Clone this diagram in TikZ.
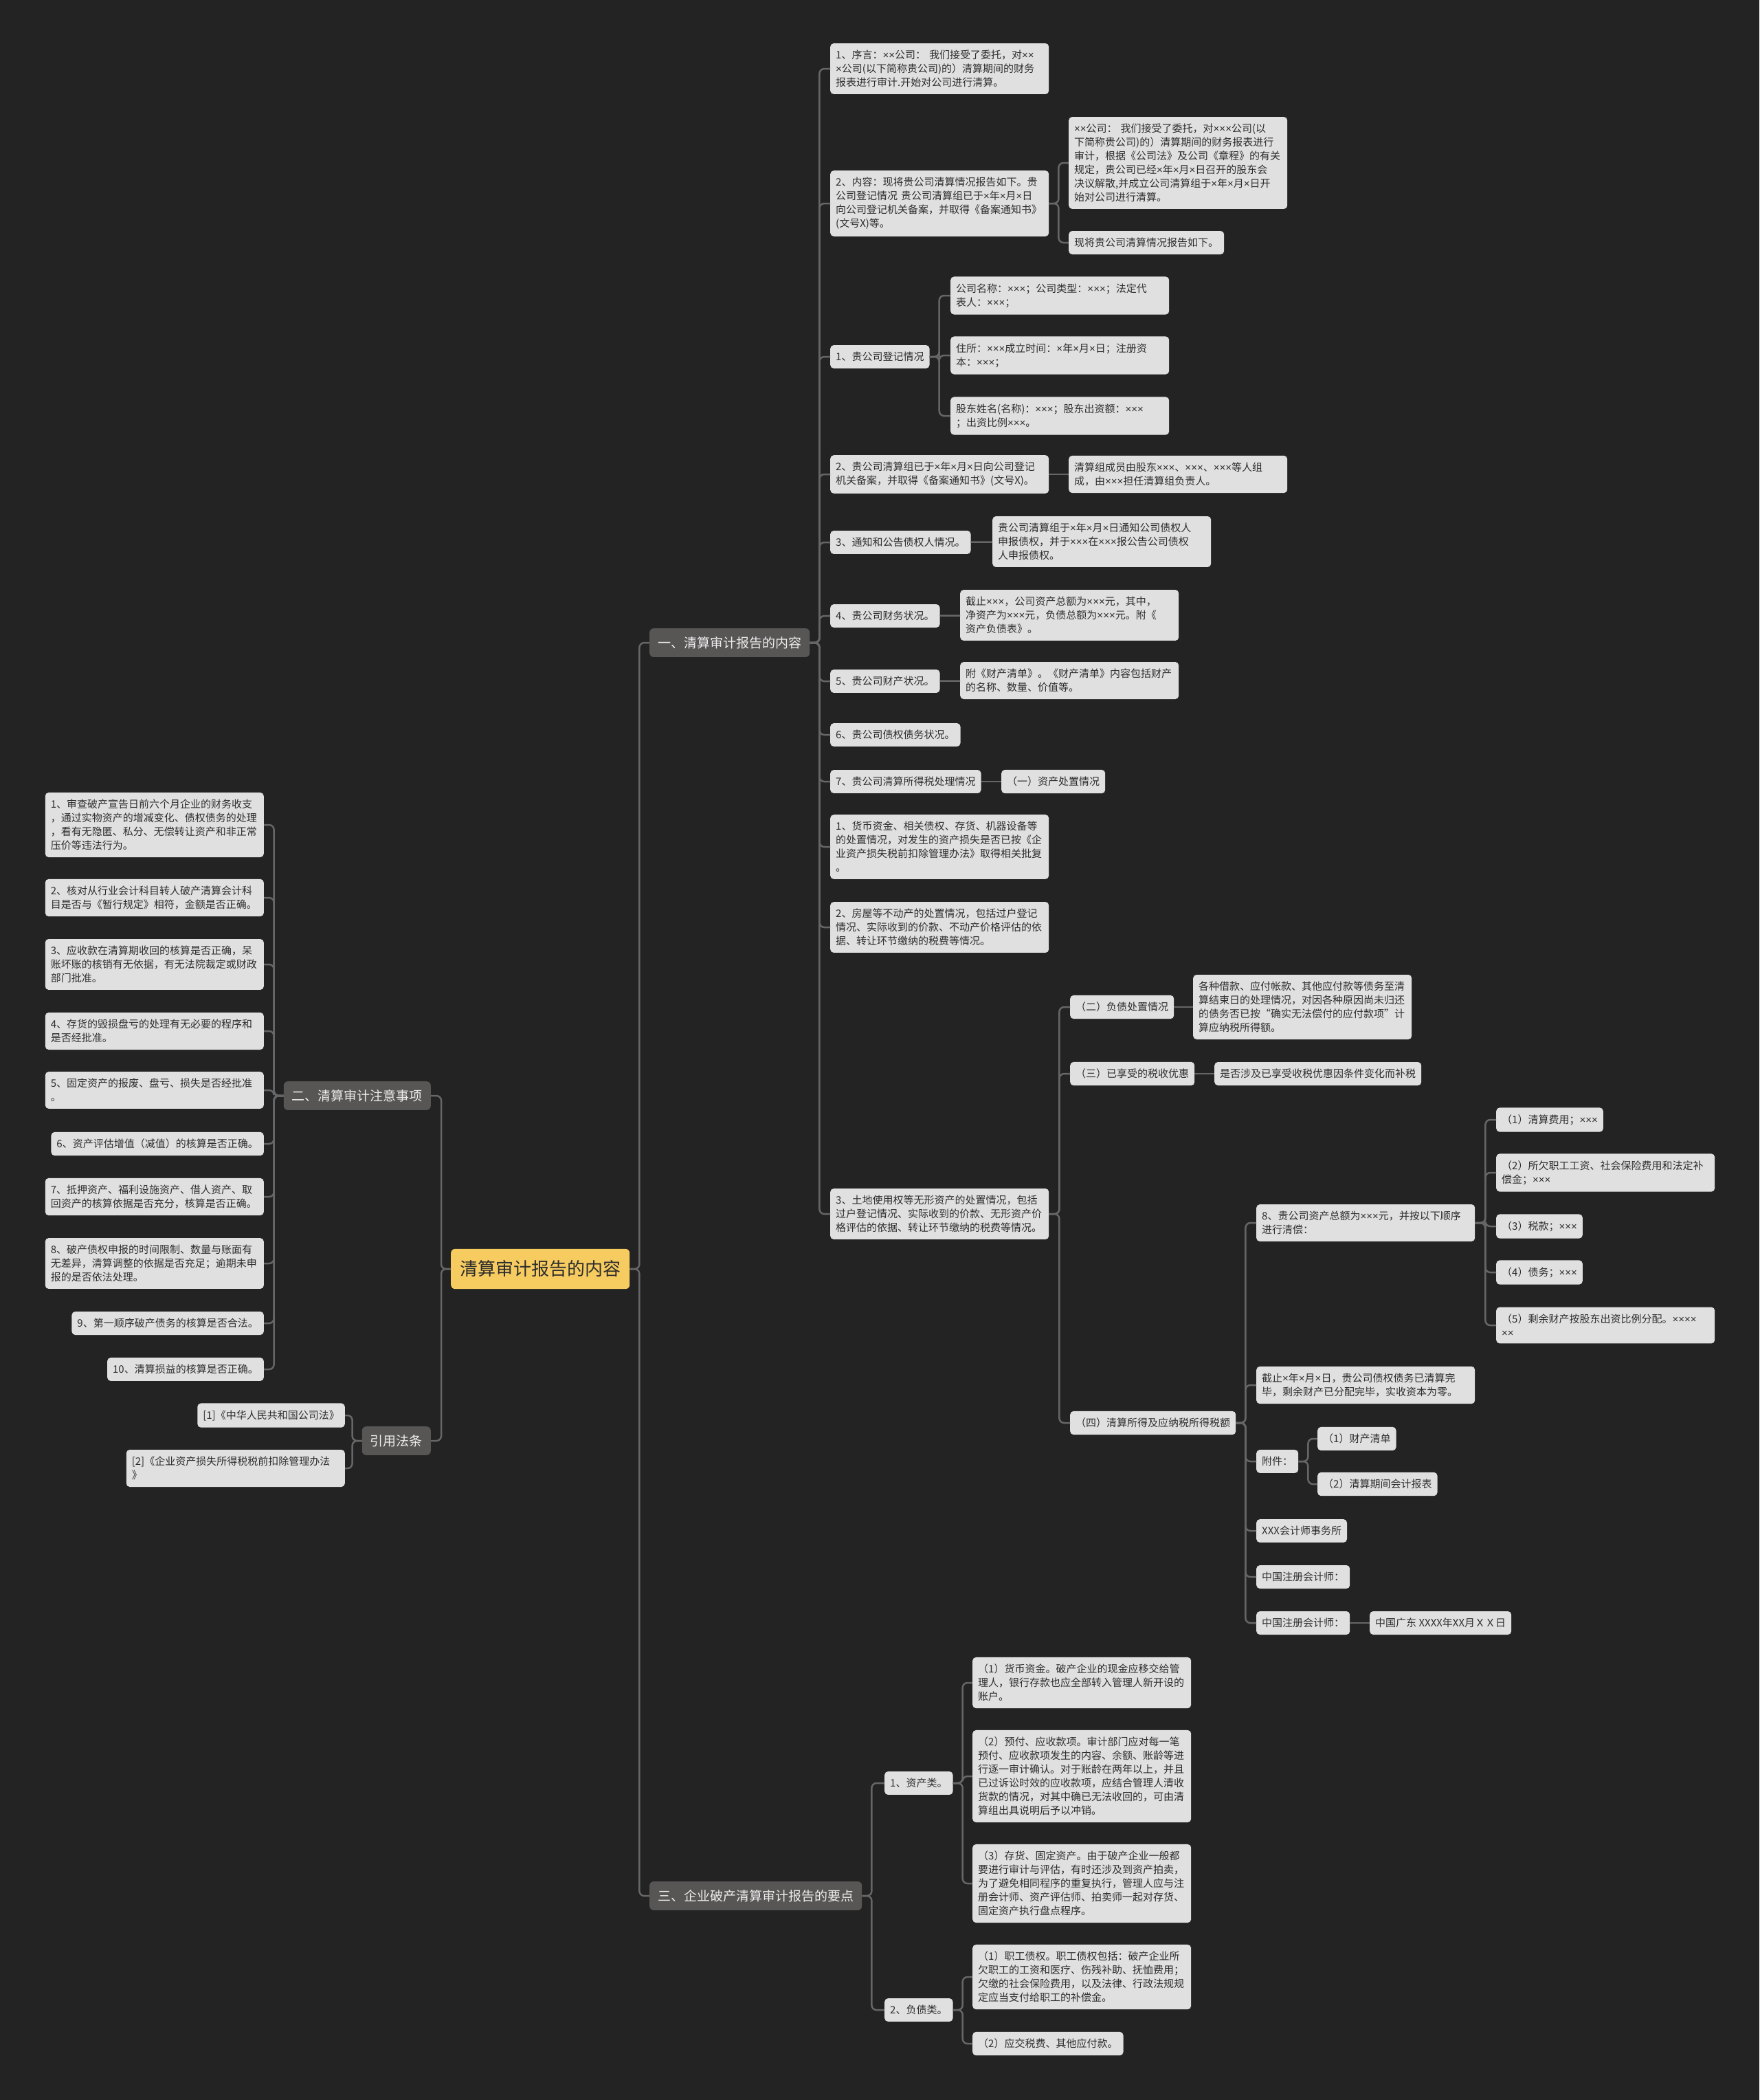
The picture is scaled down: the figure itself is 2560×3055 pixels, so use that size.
\documentclass[tikz,border=0pt]{standalone}
\usepackage{fontspec}
\setmainfont{Noto Sans CJK SC}
\newfontfamily\timesfont{Liberation Sans}
\usepackage{newunicodechar}
\newunicodechar{×}{{\timesfont\char"D7\relax}}
\usepackage{tikz}
\definecolor{canvasdark}{RGB}{35,35,35}
\definecolor{leafgray}{RGB}{224,224,224}
\definecolor{inkgray}{RGB}{45,45,45}
\definecolor{branchgray}{RGB}{88,85,85}
\definecolor{branchink}{RGB}{236,236,236}
\definecolor{rootyellow}{RGB}{246,203,96}
\definecolor{linegray}{RGB}{102,102,102}

\tikzset{
    leaf/.style={fill=leafgray, text=inkgray, rounded corners=5pt, inner xsep=8pt, inner ysep=10pt,
        font=\fontsize{15}{20}\selectfont, align=left},
    leafw/.style={leaf, text width=302pt},
    branch/.style={fill=branchgray, text=branchink, rounded corners=6pt, inner xsep=12pt, inner ysep=12pt,
        font=\fontsize{19}{24}\selectfont},
    rootbox/.style={fill=rootyellow, text=inkgray, rounded corners=6pt, inner xsep=13pt, inner ysep=17pt,
        font=\fontsize{26}{30}\selectfont},
    link/.style={draw=linegray, line width=2.5pt, rounded corners=7pt}
}

\begin{document}
\begin{tikzpicture}[x=1pt, y=-1pt]
    \fill[canvasdark] (0,0) rectangle (2560,3055);

    % centre and the four main branches
    \node[rootbox, anchor=west] (report) at (656,1846) {清算审计报告的内容};
    \node[branch, anchor=west] (partone) at (945,935) {一、清算审计报告的内容};
    \node[branch, anchor=west] (partthree) at (945,2758) {三、企业破产清算审计报告的要点};
    \node[branch, anchor=east] (parttwo) at (627,1594) {二、清算审计注意事项};
    \node[branch, anchor=east] (lawref) at (627,2096) {引用法条};

    % part one
    \node[leafw, anchor=west] (a1) at (1208,100) {1、序言：××公司：~我们接受了委托，对××\\×公司(以下简称贵公司)的）清算期间的财务\\报表进行审计.开始对公司进行清算。};
    \node[leafw, anchor=west] (a2) at (1208,296) {2、内容：现将贵公司清算情况报告如下。贵\\公司登记情况~贵公司清算组已于×年×月×日\\向公司登记机关备案，并取得《备案通知书》\\(文号X)等。};
    \node[leafw, anchor=west] (a2x) at (1555,237) {××公司：~我们接受了委托，对×××公司(以\\下简称贵公司)的）清算期间的财务报表进行\\审计，根据《公司法》及公司《章程》的有关\\规定，贵公司已经×年×月×日召开的股东会\\决议解散,并成立公司清算组于×年×月×日开\\始对公司进行清算。};
    \node[leaf, anchor=west] (a2y) at (1555,353) {现将贵公司清算情况报告如下。};
    \node[leaf, anchor=west] (a3) at (1208,519) {1、贵公司登记情况};
    \node[leafw, anchor=west] (a3x) at (1383,430) {公司名称：×××；公司类型：×××；法定代\\表人：×××；};
    \node[leafw, anchor=west] (a3y) at (1383,517) {住所：×××成立时间：×年×月×日；注册资\\本：×××；};
    \node[leafw, anchor=west] (a3z) at (1383,605) {股东姓名(名称)：×××；股东出资额：×××\\；出资比例×××。};
    \node[leafw, anchor=west] (a4) at (1208,690) {2、贵公司清算组已于×年×月×日向公司登记\\机关备案，并取得《备案通知书》(文号X)。};
    \node[leafw, anchor=west] (a4x) at (1555,690) {清算组成员由股东×××、×××、×××等人组\\成，由×××担任清算组负责人。};
    \node[leaf, anchor=west] (a5) at (1208,789) {3、通知和公告债权人情况。};
    \node[leafw, anchor=west] (a5x) at (1444,788) {贵公司清算组于×年×月×日通知公司债权人\\申报债权，并于×××在×××报公告公司债权\\人申报债权。};
    \node[leaf, anchor=west] (a6) at (1208,896) {4、贵公司财务状况。};
    \node[leafw, anchor=west] (a6x) at (1397,895) {截止×××，公司资产总额为×××元，其中，\\净资产为×××元，负债总额为×××元。附《\\资产负债表》。};
    \node[leaf, anchor=west] (a7) at (1208,991) {5、贵公司财产状况。};
    \node[leafw, anchor=west] (a7x) at (1397,990) {附《财产清单》。《财产清单》内容包括财产\\的名称、数量、价值等。};
    \node[leaf, anchor=west] (a8) at (1208,1069) {6、贵公司债权债务状况。};
    \node[leaf, anchor=west] (a9) at (1208,1137) {7、贵公司清算所得税处理情况};
    \node[leaf, anchor=west] (a9x) at (1457,1137) {（一）资产处置情况};
    \node[leafw, anchor=west] (a10) at (1208,1232) {1、货币资金、相关债权、存货、机器设备等\\的处置情况，对发生的资产损失是否已按《企\\业资产损失税前扣除管理办法》取得相关批复\\。};
    \node[leafw, anchor=west] (a11) at (1208,1349) {2、房屋等不动产的处置情况，包括过户登记\\情况、实际收到的价款、不动产价格评估的依\\据、转让环节缴纳的税费等情况。};
    \node[leafw, anchor=west] (a12) at (1208,1766) {3、土地使用权等无形资产的处置情况，包括\\过户登记情况、实际收到的价款、无形资产价\\格评估的依据、转让环节缴纳的税费等情况。};

    \node[leaf, anchor=west] (b1) at (1557,1465) {（二）负债处置情况};
    \node[leafw, anchor=west] (b1x) at (1736,1465) {各种借款、应付帐款、其他应付款等债务至清\\算结束日的处理情况，对因各种原因尚未归还\\的债务否已按“确实无法偿付的应付款项”计\\算应纳税所得额。};
    \node[leaf, anchor=west] (b2) at (1557,1562) {（三）已享受的税收优惠};
    \node[leaf, anchor=west] (b2x) at (1767,1562) {是否涉及已享受收税优惠因条件变化而补税};
    \node[leaf, anchor=west] (b3) at (1557,2070) {（四）清算所得及应纳税所得税额};

    \node[leafw, anchor=west] (c1) at (1828,1779) {8、贵公司资产总额为×××元，并按以下顺序\\进行清偿：};
    \node[leaf, anchor=west] (d1) at (2177,1629) {（1）清算费用；×××};
    \node[leafw, anchor=west] (d2) at (2177,1706) {（2）所欠职工工资、社会保险费用和法定补\\偿金；×××};
    \node[leaf, anchor=west] (d3) at (2177,1784) {（3）税款；×××};
    \node[leaf, anchor=west] (d4) at (2177,1851) {（4）债务；×××};
    \node[leafw, anchor=west] (d5) at (2177,1928) {（5）剩余财产按股东出资比例分配。××××\\××};
    \node[leafw, anchor=west] (c2) at (1828,2015) {截止×年×月×日，贵公司债权债务已清算完\\毕，剩余财产已分配完毕，实收资本为零。};
    \node[leaf, anchor=west] (c3) at (1828,2126) {附件：};
    \node[leaf, anchor=west] (e1) at (1917,2093) {（1）财产清单};
    \node[leaf, anchor=west] (e2) at (1917,2159) {（2）清算期间会计报表};
    \node[leaf, anchor=west] (c4) at (1828,2227) {XXX会计师事务所};
    \node[leaf, anchor=west] (c5) at (1828,2294) {中国注册会计师：};
    \node[leaf, anchor=west] (c6) at (1828,2361) {中国注册会计师：};
    \node[leaf, anchor=west] (c6x) at (1993,2361) {中国广东~XXXX年XX月ＸＸ日};

    % part three
    \node[leaf, anchor=west] (f1) at (1287,2594) {1、资产类。};
    \node[leaf, anchor=west] (f2) at (1287,2924) {2、负债类。};
    \node[leafw, anchor=west] (g1) at (1415,2448) {（1）货币资金。破产企业的现金应移交给管\\理人，银行存款也应全部转入管理人新开设的\\账户。};
    \node[leafw, anchor=west] (g2) at (1415,2584) {（2）预付、应收款项。审计部门应对每一笔\\预付、应收款项发生的内容、余额、账龄等进\\行逐一审计确认。对于账龄在两年以上，并且\\已过诉讼时效的应收款项，应结合管理人清收\\货款的情况，对其中确已无法收回的，可由清\\算组出具说明后予以冲销。};
    \node[leafw, anchor=west] (g3) at (1415,2740) {（3）存货、固定资产。由于破产企业一般都\\要进行审计与评估，有时还涉及到资产拍卖，\\为了避免相同程序的重复执行，管理人应与注\\册会计师、资产评估师、拍卖师一起对存货、\\固定资产执行盘点程序。};
    \node[leafw, anchor=west] (g4) at (1415,2876) {（1）职工债权。职工债权包括：破产企业所\\欠职工的工资和医疗、伤残补助、抚恤费用；\\欠缴的社会保险费用，以及法律、行政法规规\\定应当支付给职工的补偿金。};
    \node[leaf, anchor=west] (g5) at (1415,2973) {（2）应交税费、其他应付款。};

    % part two (left side)
    \node[leafw, anchor=east] (h1) at (384,1200) {1、审查破产宣告日前六个月企业的财务收支\\，通过实物资产的增减变化、债权债务的处理\\，看有无隐匿、私分、无偿转让资产和非正常\\压价等违法行为。};
    \node[leafw, anchor=east] (h2) at (384,1306) {2、核对从行业会计科目转人破产清算会计科\\目是否与《暂行规定》相符，金额是否正确。};
    \node[leafw, anchor=east] (h3) at (384,1403) {3、应收款在清算期收回的核算是否正确，呆\\账坏账的核销有无依据，有无法院裁定或财政\\部门批准。};
    \node[leafw, anchor=east] (h4) at (384,1500) {4、存货的毁损盘亏的处理有无必要的程序和\\是否经批准。};
    \node[leafw, anchor=east] (h5) at (384,1586) {5、固定资产的报废、盘亏、损失是否经批准\\。};
    \node[leaf, anchor=east] (h6) at (384,1664) {6、资产评估增值（减值）的核算是否正确。};
    \node[leafw, anchor=east] (h7) at (384,1741) {7、抵押资产、福利设施资产、借人资产、取\\回资产的核算依据是否充分，核算是否正确。};
    \node[leafw, anchor=east] (h8) at (384,1838) {8、破产债权申报的时间限制、数量与账面有\\无差异，清算调整的依据是否充足；逾期未申\\报的是否依法处理。};
    \node[leaf, anchor=east] (h9) at (384,1925) {9、第一顺序破产债务的核算是否合法。};
    \node[leaf, anchor=east] (h10) at (384,1992) {10、清算损益的核算是否正确。};
    \node[leaf, anchor=east] (l1) at (502,2059) {[1]《中华人民共和国公司法》};
    \node[leafw, anchor=east] (l2) at (502,2136) {[2]《企业资产损失所得税税前扣除管理办法\\》};

    % connectors
    \foreach \k in {partone, partthree}
        \draw[link] (report.east) -- ++(14,0) |- (\k.west);
    \foreach \k in {parttwo, lawref}
        \draw[link] (report.west) -- ++(-14,0) |- (\k.east);
    \foreach \k in {a1, a2, a3, a4, a5, a6, a7, a8, a9, a10, a11, a12}
        \draw[link] (partone.east) -- ++(14,0) |- (\k.west);
    \foreach \k in {a2x, a2y}
        \draw[link] (a2.east) -- ++(14,0) |- (\k.west);
    \foreach \k in {a3x, a3y, a3z}
        \draw[link] (a3.east) -- ++(14,0) |- (\k.west);
    \draw[link] (a4) -- (a4x);
    \draw[link] (a5) -- (a5x);
    \draw[link] (a6) -- (a6x);
    \draw[link] (a7) -- (a7x);
    \draw[link] (a9) -- (a9x);
    \foreach \k in {b1, b2, b3}
        \draw[link] (a12.east) -- ++(15,0) |- (\k.west);
    \draw[link] (b1) -- (b1x);
    \draw[link] (b2) -- (b2x);
    \foreach \k in {c1, c2, c3, c4, c5, c6}
        \draw[link] (b3.east) -- ++(14,0) |- (\k.west);
    \foreach \k in {d1, d2, d3, d4, d5}
        \draw[link] (c1.east) -- ++(15,0) |- (\k.west);
    \foreach \k in {e1, e2}
        \draw[link] (c3.east) -- ++(14,0) |- (\k.west);
    \draw[link] (c6) -- (c6x);
    \foreach \k in {f1, f2}
        \draw[link] (partthree.east) -- ++(14,0) |- (\k.west);
    \foreach \k in {g1, g2, g3}
        \draw[link] (f1.east) -- ++(14,0) |- (\k.west);
    \foreach \k in {g4, g5}
        \draw[link] (f2.east) -- ++(14,0) |- (\k.west);
    \foreach \k in {h1, h2, h3, h4, h5, h6, h7, h8, h9, h10}
        \draw[link] (parttwo.west) -- ++(-14,0) |- (\k.east);
    \foreach \k in {l1, l2}
        \draw[link] (lawref.west) -- ++(-14,0) |- (\k.east);
\end{tikzpicture}
\end{document}
